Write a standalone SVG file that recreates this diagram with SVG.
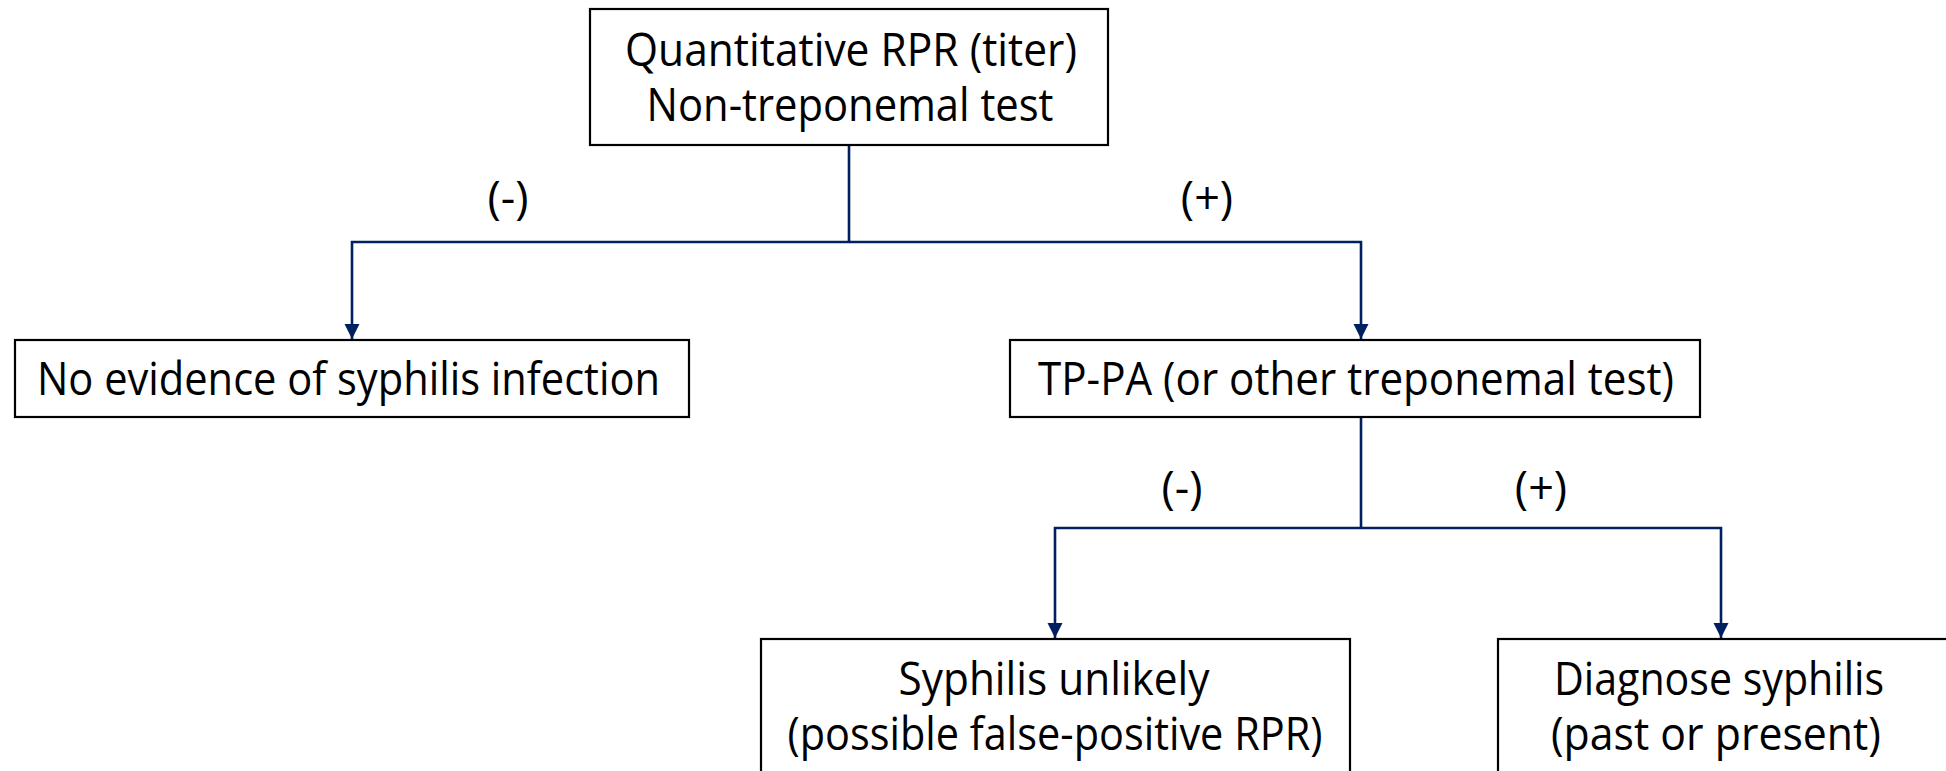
<svg xmlns="http://www.w3.org/2000/svg" width="1946" height="771" viewBox="0 0 1946 771">
  <style>
    .box { fill: #ffffff; stroke: #000000; stroke-width: 2.2; }
    .txt { font-family: "Open Sans", "Liberation Sans", sans-serif; font-size: 45px; fill: #000000; text-anchor: middle; }
    .wire { fill: none; stroke: #002060; stroke-width: 2.6; }
  </style>
  <defs>
    <marker id="arrow" markerUnits="userSpaceOnUse" markerWidth="16" markerHeight="16" viewBox="0 0 16 16" refX="15" refY="8" orient="auto">
      <path d="M0,0.5 L15,8 L0,15.5 Z" fill="#002060"/>
    </marker>
  </defs>

  <rect width="1946" height="771" fill="#ffffff"/>

  <!-- connectors -->
  <g id="connectors">
    <path class="wire" d="M849,145 V242"/>
    <path class="wire" d="M849,242 H352 V339" marker-end="url(#arrow)"/>
    <path class="wire" d="M849,242 H1361 V339" marker-end="url(#arrow)"/>
    <path class="wire" d="M1361,417 V528"/>
    <path class="wire" d="M1361,528 H1055 V638" marker-end="url(#arrow)"/>
    <path class="wire" d="M1361,528 H1721 V638" marker-end="url(#arrow)"/>
  </g>

  <!-- branch labels -->
  <g id="labels">
    <text class="txt" x="508" y="214">(-)</text>
    <text class="txt" x="1207" y="214">(+)</text>
    <text class="txt" x="1182" y="504">(-)</text>
    <text class="txt" x="1541" y="504">(+)</text>
  </g>

  <g id="rpr">
    <rect class="box" x="590" y="9" width="518" height="136"/>
    <text class="txt" x="851" y="66" textLength="452" lengthAdjust="spacingAndGlyphs">Quantitative RPR (titer)</text>
    <text class="txt" x="850" y="121" textLength="407" lengthAdjust="spacingAndGlyphs">Non-treponemal test</text>
  </g>

  <g id="no-evidence">
    <rect class="box" x="15" y="340" width="674" height="77"/>
    <text class="txt" x="348.5" y="395" textLength="623" lengthAdjust="spacingAndGlyphs">No evidence of syphilis infection</text>
  </g>

  <g id="tppa">
    <rect class="box" x="1010" y="340" width="690" height="77"/>
    <text class="txt" x="1356" y="395" textLength="636" lengthAdjust="spacingAndGlyphs">TP-PA (or other treponemal test)</text>
  </g>

  <g id="unlikely">
    <rect class="box" x="761" y="639" width="589" height="150"/>
    <text class="txt" x="1054" y="695" textLength="311" lengthAdjust="spacingAndGlyphs">Syphilis unlikely</text>
    <text class="txt" x="1055" y="750" textLength="535" lengthAdjust="spacingAndGlyphs">(possible false-positive RPR)</text>
  </g>

  <g id="diagnose">
    <rect class="box" x="1498" y="639" width="470" height="150"/>
    <text class="txt" x="1719" y="695" textLength="330" lengthAdjust="spacingAndGlyphs">Diagnose syphilis</text>
    <text class="txt" x="1716" y="750" textLength="330" lengthAdjust="spacingAndGlyphs">(past or present)</text>
  </g>
</svg>
